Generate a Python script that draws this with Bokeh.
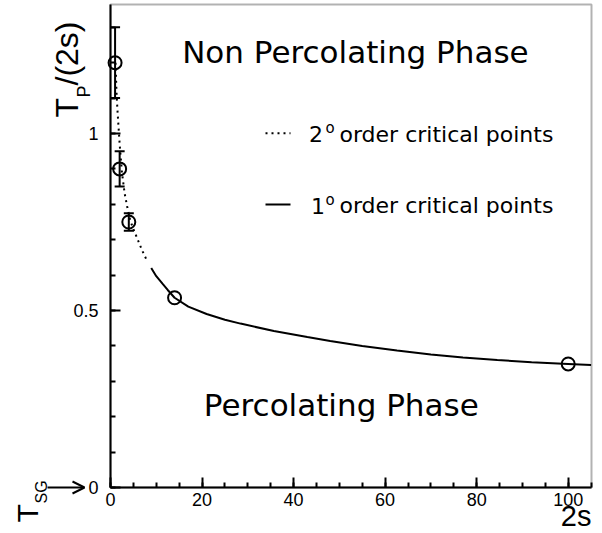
import math
from bokeh.plotting import figure
from bokeh.models import (Label, Whisker, TeeHead, Arrow, OpenHead, ColumnDataSource,
                          SingleIntervalTicker, CustomJSTickFormatter, Range1d, LinearAxis,
                          BoxAnnotation)
from bokeh.embed import file_html
from bokeh.resources import INLINE

# ---- data ----
pts_x = [1, 2, 4, 14, 100]
pts_y = [1.2, 0.9, 0.75, 0.536, 0.349]
pts_err = [0.1, 0.05, 0.025, 0.0, 0.0]

# 2nd order critical points (dotted)
x2 = [1.1, 1.3, 1.5, 1.7, 2.0, 2.5, 3.1, 3.7, 4.3, 5.0, 5.8, 6.9, 8.0]
y2 = [1.20, 1.12, 1.07, 1.03, 0.97, 0.89, 0.83, 0.79, 0.755, 0.73, 0.705, 0.67, 0.64]

# 1st order critical points (solid)
x1 = [8.9, 10, 11.4, 12.5, 14, 17, 21, 25, 28.4, 35.7, 43, 48, 55, 62.6, 70, 77, 84.5, 92, 100, 105]
y1 = [0.62, 0.597, 0.575, 0.558, 0.536, 0.511, 0.49, 0.474, 0.463, 0.442, 0.425, 0.414, 0.4,
      0.387, 0.376, 0.367, 0.36, 0.354, 0.349, 0.346]

X_MAX = 105.09
Y_MAX = 1.3644

# ---- layout: pixel <-> data (positions only) ----
PX0, PXS = 110.0, 4.577   # page x of x=0, pixels per x unit
PY0, PYS = 487.0, 354.0   # page y of y=0, pixels per y unit
W, H = 602, 533

def dx(px):
    return (px - PX0) / PXS

def dy(py):
    return (PY0 - py) / PYS

p = figure(width=W, height=H, output_backend="svg", toolbar_location=None,
           x_range=Range1d(dx(0), dx(W)), y_range=Range1d(dy(H), dy(0)),
           x_axis_location=None, y_axis_location=None,
           min_border_left=0, min_border_right=0, min_border_top=0, min_border_bottom=0)
p.background_fill_color = "white"
p.border_fill_color = "white"
p.outline_line_color = None
p.grid.visible = False

# frame box
p.add_layout(BoxAnnotation(left=0, right=X_MAX, bottom=0, top=Y_MAX, fill_color=None,
                           line_color="black", line_width=2))

xa = LinearAxis(fixed_location=0, bounds=(0, X_MAX),
                ticker=SingleIntervalTicker(interval=20, num_minor_ticks=4))
ya = LinearAxis(fixed_location=0, bounds=(0, Y_MAX),
                ticker=SingleIntervalTicker(interval=0.5, num_minor_ticks=5),
                formatter=CustomJSTickFormatter(code="return (Math.round(tick*10)/10).toString();"))
for ax in (xa, ya):
    ax.axis_line_width = 2
    ax.axis_line_color = "black"
    ax.major_tick_in = 10
    ax.major_tick_out = 0
    ax.minor_tick_in = 5
    ax.minor_tick_out = 0
    ax.major_tick_line_width = 2
    ax.minor_tick_line_width = 2
    ax.major_tick_line_color = "black"
    ax.minor_tick_line_color = "black"
    ax.major_label_text_font = "Liberation Sans"
    ax.major_label_text_font_size = "18px"
    ax.major_label_text_color = "black"
xa.major_label_standoff = 5
ya.major_label_standoff = 12
p.add_layout(xa, "below")
p.add_layout(ya, "left")

# curves
p.line(x2, y2, line_color="black", line_width=2, line_dash="2 4")
p.line(x1, y1, line_color="black", line_width=2)

# error bars
ex = [x for x, e in zip(pts_x, pts_err) if e > 0]
ey = [y for y, e in zip(pts_y, pts_err) if e > 0]
ee = [e for e in pts_err if e > 0]
src = ColumnDataSource(dict(base=ex, upper=[y + e for y, e in zip(ey, ee)],
                            lower=[y - e for y, e in zip(ey, ee)]))
p.add_layout(Whisker(base="base", upper="upper", lower="lower", source=src, dimension="height",
                     line_width=2, line_color="black",
                     upper_head=TeeHead(size=10, line_width=2, line_color="black"),
                     lower_head=TeeHead(size=10, line_width=2, line_color="black")))

# points
p.scatter(pts_x, pts_y, marker="circle", size=13, fill_color=None, line_color="black", line_width=2)


def L(px, py, text, size, font="DejaVu Sans", angle=0.0, align="left"):
    # (px, py) = page position of the start/centre of the text, vertically at the text's middle
    p.add_layout(Label(x=dx(px), y=dy(py), text=text, text_font=font,
                       text_font_size=f"{size}px", angle=angle, text_align=align,
                       text_baseline="middle", text_color="black"))

# legend samples
p.segment(x0=[dx(265)], y0=[dy(132.7)], x1=[dx(290)], y1=[dy(132.7)],
          line_color="black", line_width=2, line_dash="2 4")
p.segment(x0=[dx(265)], y0=[dy(204)], x1=[dx(290)], y1=[dy(204)],
          line_color="black", line_width=2)

L(308.5, 133.7, "2", 22)
L(325, 127.8, "o", 15)
L(339, 133.7, "order critical points", 22)
L(310.5, 205, "1", 22)
L(325, 199.1, "o", 15)
L(339, 205, "order critical points", 22)

# phase labels
L(354.9, 51.2, "Non Percolating Phase", 31, align="center")
L(340.8, 404.7, "Percolating Phase", 31, align="center")

# y title (rotated)
L(66.5, 117, "T", 32, font="Liberation Sans", angle=math.pi / 2)
L(83.5, 97, "P", 18, font="Liberation Sans", angle=math.pi / 2)
L(66.5, 85, "/(2s)", 32, font="Liberation Sans", angle=math.pi / 2)

# T_SG -> 0
L(26.5, 522, "T", 30, font="Liberation Sans", angle=math.pi / 2)
L(40.5, 503, "SG", 16, font="Liberation Sans", angle=math.pi / 2)
p.add_layout(Arrow(end=OpenHead(size=12, line_width=2, line_color="black"),
                   x_start=dx(47), y_start=0, x_end=dx(84), y_end=0,
                   line_width=2, line_color="black"))

# x title
L(591, 515, "2s", 29, font="Liberation Sans", align="right")

open("out.html", "w").write(file_html(p, INLINE))
